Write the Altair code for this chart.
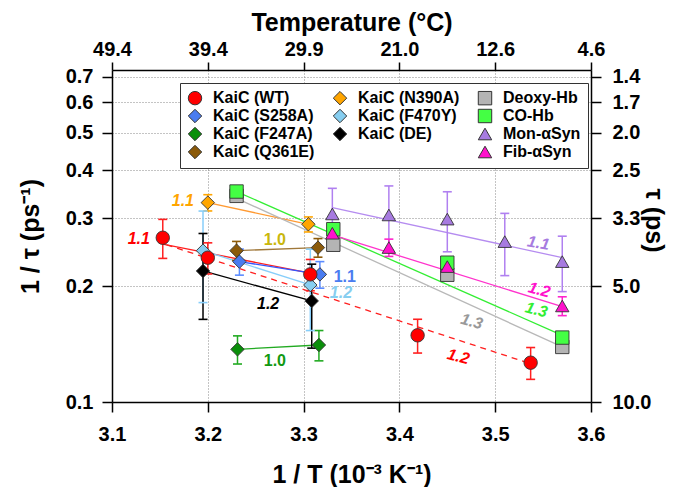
import altair as alt
import pandas as pd

FONT = "Liberation Sans"

# ---------------- data ----------------
series_order = ["KaiC (S258A)", "KaiC (F247A)", "KaiC (Q361E)", "KaiC (N390A)",
                "KaiC (F470Y)", "KaiC (DE)", "KaiC (WT)", "Deoxy-Hb", "CO-Hb",
                "Mon-αSyn", "Fib-αSyn"]

pts_x = {
    "KaiC (WT)": [3.153, 3.200, 3.307, 3.419, 3.537],
    "KaiC (S258A)": [3.233, 3.317],
    "KaiC (F247A)": [3.231, 3.316],
    "KaiC (Q361E)": [3.230, 3.315],
    "KaiC (N390A)": [3.200, 3.305],
    "KaiC (F470Y)": [3.195, 3.307],
    "KaiC (DE)": [3.195, 3.3085],
    "Deoxy-Hb": [3.230, 3.331, 3.450, 3.570],
    "CO-Hb": [3.230, 3.331, 3.450, 3.570],
    "Mon-αSyn": [3.330, 3.389, 3.450, 3.510, 3.570],
    "Fib-αSyn": [3.330, 3.389, 3.450, 3.570],
}
pts_y = {
    "KaiC (WT)": [0.267, 0.237, 0.2145, 0.149, 0.1265],
    "KaiC (S258A)": [0.2315, 0.2145],
    "KaiC (F247A)": [0.137, 0.1406],
    "KaiC (Q361E)": [0.2472, 0.2517],
    "KaiC (N390A)": [0.3294, 0.2894],
    "KaiC (F470Y)": [0.2472, 0.2013],
    "KaiC (DE)": [0.2189, 0.183],
    "Deoxy-Hb": [0.343, 0.256, 0.214, 0.139],
    "CO-Hb": [0.352, 0.281, 0.230, 0.147],
    "Mon-αSyn": [0.3078, 0.306, 0.2985, 0.2609, 0.2315],
    "Fib-αSyn": [0.2743, 0.2518, 0.2247, 0.1776],
}
pts_err = {
    "KaiC (WT)": [0.031, 0.022, 0.020, 0.015, 0.012],
    "KaiC (S258A)": [0.018, 0.017],
    "KaiC (F247A)": [0.0115, 0.0127],
    "KaiC (Q361E)": [0.014, 0.014],
    "KaiC (N390A)": [0.016, 0.013],
    "KaiC (F470Y)": [0.066, 0.048],
    "KaiC (DE)": [0.055, 0.045],
    "Mon-αSyn": [0.051, 0.058, 0.053, 0.048, 0.038],
    "Fib-αSyn": [0.010, 0.013, 0.010, 0.010],
}

# legend, filled column by column (3 columns x 4 rows; " " is an empty slot)
legend_order = ["KaiC (WT)", "KaiC (S258A)", "KaiC (F247A)", "KaiC (Q361E)",
                "KaiC (N390A)", "KaiC (F470Y)", "KaiC (DE)", " ",
                "Deoxy-Hb", "CO-Hb", "Mon-αSyn", "Fib-αSyn"]
legend_colors = ["#ff0000", "#4a7cf0", "#0a8f0a", "#8b5a0a",
                 "#ffa500", "#87cef0", "#000000", "rgba(0,0,0,0)",
                 "#b4b4b4", "#44ff44", "#a77be0", "#ff11cc"]
legend_shapes = ["circle", "diamond", "diamond", "diamond",
                 "diamond", "diamond", "diamond", "M0,0",
                 "square", "square", "triangle-up", "triangle-up"]

err_domain = ["KaiC (WT)", "KaiC (S258A)", "KaiC (F247A)", "KaiC (Q361E)",
              "KaiC (N390A)", "KaiC (F470Y)", "KaiC (DE)", "Mon-αSyn", "Fib-αSyn"]
err_colors = ["#ff2020", "#5b8cff", "#22aa22", "#8b5a0a",
              "#ffa500", "#87cefa", "#000000", "#b080f0", "#ff22cc"]

# fit / connecting lines: start and end points
line_x0 = [3.153, 3.157, 3.200, 3.230, 3.233, 3.195, 3.195, 3.231, 3.230, 3.230, 3.330, 3.330]
line_y0 = [0.257, 0.256, 0.3294, 0.2472, 0.2315, 0.2472, 0.2189, 0.137, 0.338, 0.352, 0.3196, 0.2715]
line_x1 = [3.307, 3.540, 3.305, 3.315, 3.317, 3.307, 3.3085, 3.316, 3.570, 3.570, 3.570, 3.570]
line_y1 = [0.216, 0.125, 0.2894, 0.2517, 0.2145, 0.2013, 0.183, 0.1406, 0.139, 0.149, 0.2371, 0.1768]
line_colors = ["#ff2020", "#ff2020", "#ff9a33", "#a0783a", "#3355ff", "#87cefa",
               "#000000", "#22aa22", "#b8b8b8", "#33ee33", "#b58cf0", "#ff33cc"]
line_dashed = [False, True, False, False, False, False, False, False, False, False, False, False]

# slope labels
lab_x = [3.128, 3.174, 3.270, 3.343, 3.339, 3.263, 3.270, 3.545, 3.546, 3.543, 3.4755, 3.4615]
lab_y = [0.265, 0.333, 0.2635, 0.2116, 0.1916, 0.1797, 0.128, 0.2584, 0.1954, 0.1734, 0.1617, 0.1311]
lab_text = ["1.1", "1.1", "1.0", "1.1", "1.2", "1.2", "1.0", "1.1", "1.2", "1.3", "1.3", "1.2"]
lab_color = ["#ff0000", "#ffa500", "#c9b70c", "#4a7cf0", "#87cef0", "#000000", "#119911",
             "#a77be0", "#ff11cc", "#33ee33", "#999999", "#ff0000"]
lab_angle = [0, 0, 0, 0, 0, 0, 0, 10, 15, 15, 15, 15]
lab_italic = [True, True, False, False, True, True, False, True, True, True, True, True]

x_ticks = [3.1, 3.2, 3.3, 3.4, 3.5, 3.6]
y_ticks = [0.1, 0.2, 0.3, 0.4, 0.5, 0.6, 0.7]

# ---------------- tables ----------------
rows = []
for s in series_order:
    for xv, yv in zip(pts_x[s], pts_y[s]):
        rows.append({"series": s, "x": xv, "y": yv})
pts = pd.DataFrame(rows)

erows, crows = [], []
for s in err_domain:
    for xv, yv, ev in zip(pts_x[s], pts_y[s], pts_err[s]):
        erows.append({"series": s, "x": xv, "lo": yv - ev, "hi": yv + ev})
        crows.append({"series": s, "x": xv, "y": yv - ev})
        crows.append({"series": s, "x": xv, "y": yv + ev})
errs = pd.DataFrame(erows)
caps = pd.DataFrame(crows)

W, H = 479, 332
xs = alt.Scale(domain=[3.1, 3.6], zero=False, nice=False)
ys = alt.Scale(type="log", domain=[0.1, 0.728], nice=False)

layers = []

# lines
for i in range(len(line_x0)):
    d = pd.DataFrame({"x": [line_x0[i], line_x1[i]], "y": [line_y0[i], line_y1[i]]})
    kw = dict(color=line_colors[i], strokeWidth=1.3)
    if line_dashed[i]:
        kw["strokeDash"] = [6, 5]
    layers.append(alt.Chart(d).mark_line(**kw).encode(
        x=alt.X("x:Q", scale=xs, axis=None),
        y=alt.Y("y:Q", scale=ys, axis=None)))

# error bars
layers.append(alt.Chart(errs).mark_rule(strokeWidth=1.5).encode(
    x=alt.X("x:Q", scale=xs, axis=None),
    y=alt.Y("lo:Q", scale=ys, axis=None),
    y2="hi:Q",
    stroke=alt.Stroke("series:N", scale=alt.Scale(domain=err_domain, range=err_colors), legend=None)))
layers.append(alt.Chart(caps).mark_tick(orient="horizontal", size=9, thickness=1.6, opacity=1).encode(
    x=alt.X("x:Q", scale=xs, axis=None),
    y=alt.Y("y:Q", scale=ys, axis=None),
    fill=alt.Fill("series:N", scale=alt.Scale(domain=err_domain, range=err_colors), legend=None)))

# points with legend
leg = alt.Legend(title=None, orient="none", legendX=68, legendY=13, columns=3,
                 fillColor="white", strokeColor="#333", padding=7,
                 labelFont=FONT, labelFontSize=16, labelFontWeight="bold", labelColor="black",
                 symbolSize=180, symbolStrokeColor="#333", symbolStrokeWidth=1,
                 rowPadding=0, columnPadding=16, labelOffset=10, labelLimit=200)
layers.append(alt.Chart(pts).mark_point(filled=True, size=180, opacity=1, stroke="#333",
                                         strokeWidth=0.9).encode(
    x=alt.X("x:Q", scale=xs, axis=None),
    y=alt.Y("y:Q", scale=ys, axis=None),
    color=alt.Color("series:N", scale=alt.Scale(domain=legend_order, range=legend_colors), legend=leg),
    shape=alt.Shape("series:N", scale=alt.Scale(domain=legend_order, range=legend_shapes), legend=leg)))

# labels
for i in range(len(lab_x)):
    d = pd.DataFrame({"x": [lab_x[i]], "y": [lab_y[i]], "t": [lab_text[i]]})
    layers.append(alt.Chart(d).mark_text(
        font=FONT, fontSize=16, fontWeight="bold",
        fontStyle="italic" if lab_italic[i] else "normal",
        color=lab_color[i], angle=lab_angle[i], align="center", baseline="middle").encode(
        x=alt.X("x:Q", scale=xs, axis=None),
        y=alt.Y("y:Q", scale=ys, axis=None),
        text="t:N"))

# axes layers
common = dict(domainColor="black", domainWidth=1.5, tickColor="black", tickWidth=1.5,
              labelFont=FONT, labelFontSize=20, labelFontWeight="bold",
              labelColor="black", titleFont=FONT, titleFontSize=25, titleFontWeight="bold",
              titleColor="black", labelFlush=False, titleAlign="center", titleBaseline="middle")
axis_bottom = alt.Axis(orient="bottom", values=x_ticks, format=".1f", grid=True,
                       gridDash=[1, 2], gridColor="#888", gridWidth=1, tickSize=10,
                       title="1 / T (10⁻³ K⁻¹)", labelPadding=12,
                       titleX=W / 2, titleY=72, **common)
axis_left = alt.Axis(orient="left", values=y_ticks, format=".1f", grid=True,
                     gridDash=[1, 2], gridColor="#888", gridWidth=1, tickSize=10,
                     title="1 / τ (ps⁻¹)", labelPadding=9, titleAngle=270,
                     titleX=-82, titleY=H / 2, **common)
axis_top = alt.Axis(orient="top", values=x_ticks, grid=False, tickSize=8,
                    labelExpr="format(1000 / datum.value - 273.15, '.1f')",
                    title="Temperature (°C)", labelPadding=3,
                    titleX=W / 2, titleY=-48, **common)
axis_right = alt.Axis(orient="right", values=y_ticks, grid=False, tickSize=10,
                      labelExpr="format(1 / datum.value, '.1f')",
                      title="τ (ps)", labelPadding=11, titleAngle=90,
                      titleX=62, titleY=150, **common)

layers.insert(0, alt.Chart(pts).mark_point(opacity=0).encode(
    x=alt.X("x:Q", scale=xs, axis=axis_bottom),
    y=alt.Y("y:Q", scale=ys, axis=axis_left)))
layers.insert(1, alt.Chart(pts).mark_point(opacity=0).encode(
    x=alt.X("x:Q", scale=xs, axis=axis_top),
    y=alt.Y("y:Q", scale=ys, axis=axis_right)))

chart = alt.layer(*layers).resolve_axis(x="independent", y="independent").properties(
    width=W, height=H,
    padding={"left": 104, "top": 62, "right": 84, "bottom": 85},
    autosize=alt.AutoSizeParams(type="none"),
    background="white",
).configure_view(stroke=None)

chart.save("out.html", embed_options={"renderer": "svg", "actions": False})
